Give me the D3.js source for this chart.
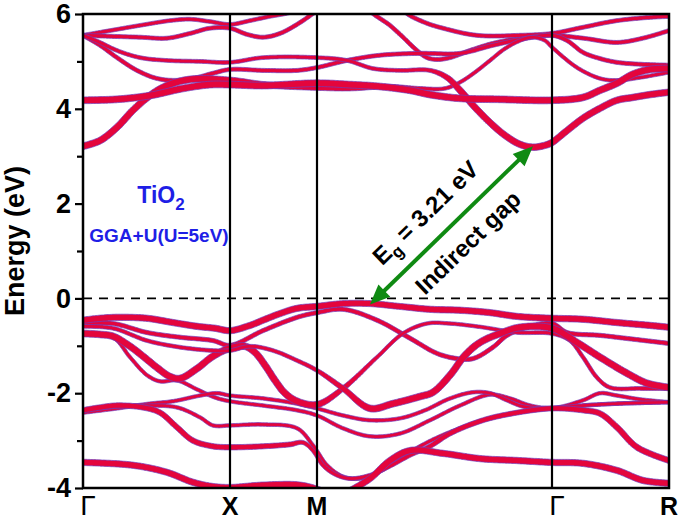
<!DOCTYPE html>
<html>
<head>
<meta charset="utf-8">
<script src="https://cdn.jsdelivr.net/npm/d3@7"></script>
<style>
  body { margin: 0; background: #fff; }
  svg { display: block; }
  text { font-family: "Liberation Sans", Arial, sans-serif; }
</style>
</head>
<body>
<div id="chart"></div>
<script>
// high-symmetry points along the k-path (path length units)
var kTicks = [0, 1.47, 2.34, 4.69, 5.86];
var kLabels = ["Γ", "X", "M", "Γ", "R"];
var energyTicks = [-4, -2, 0, 2, 4, 6];
var energyMinor = [-3, -1, 1, 3, 5];

// bands: [k, E (eV), projected weight]
var cb1 = [[0,3.21,.9],[0.17,3.33,.9],[0.34,3.61,.9],[0.50,3.97,.9],[0.67,4.28,.9],[0.84,4.49,.9],[1.07,4.62,.9],[1.47,4.60,.85],[1.80,4.51,.8],[2.34,4.45,.7],[2.67,4.43,.5],[3.07,4.47,.35],[3.37,4.43,.25],[3.62,4.43,.2],[3.77,4.56,.2],[3.92,4.77,.2],[4.07,5.02,.2],[4.22,5.27,.2],[4.37,5.44,.2],[4.49,5.51,.2],[4.62,5.44,.2],[4.69,5.30,.2],[4.94,4.87,.2],[5.17,4.64,.2],[5.34,4.60,.2],[5.57,4.66,.2],[5.86,4.77,.2]];
var cb2 = [[0,4.18,.9],[0.34,4.20,.9],[0.67,4.28,.9],[1.00,4.43,.9],[1.27,4.51,.9],[1.47,4.51,.9],[1.80,4.49,.9],[2.34,4.54,.9],[2.67,4.51,.9],[2.97,4.47,.9],[3.27,4.39,.9],[3.47,4.30,.9],[3.77,4.22,.9],[4.17,4.20,.9],[4.69,4.18,.9],[5.00,4.24,.9],[5.17,4.39,.9],[5.34,4.54,.9],[5.50,4.73,.9],[5.67,4.83,.9],[5.86,4.85,.9]];
var cb3 = [[0,5.55,.3],[0.17,5.34,.3],[0.34,5.08,.3],[0.54,4.81,.3],[0.74,4.64,.3],[0.94,4.60,.3],[1.14,4.66,.3],[1.30,4.75,.3],[1.47,4.83,.3],[1.80,4.81,.3],[2.14,4.81,.3],[2.34,4.87,.3],[2.64,5.02,.3],[2.97,5.13,.3],[3.37,5.17,.3],[3.77,5.17,.3],[4.10,5.34,.3],[4.44,5.49,.3],[4.69,5.55,.3],[4.84,5.44,.3],[5.00,5.19,.3],[5.17,5.06,.3],[5.34,4.98,.3],[5.57,4.94,.3],[5.86,4.92,.3]];
var cb4 = [[0,5.55,.25],[0.17,5.40,.25],[0.34,5.23,.25],[0.57,5.08,.25],[0.84,5.02,.25],[1.17,5.00,.25],[1.47,4.98,.25],[1.80,5.08,.25],[2.34,5.08,.25],[2.64,5.02,.25],[2.90,4.85,.25],[3.17,4.81,.25],[3.47,4.81,.3],[3.64,4.66,.6],[3.77,4.39,.85],[3.92,4.03,.85],[4.07,3.71,.85],[4.22,3.44,.85],[4.37,3.25,.85],[4.50,3.19,.85],[4.62,3.23,.85],[4.69,3.29,.85],[4.84,3.54,.85],[5.00,3.80,.85],[5.17,4.01,.85],[5.34,4.18,.85],[5.50,4.24,.85],[5.67,4.30,.85],[5.86,4.35,.85]];
var cb5 = [[0,5.55,.25],[0.27,5.65,.25],[0.57,5.76,.25],[0.87,5.86,.25],[1.07,5.89,.25],[1.27,5.84,.25],[1.47,5.78,.25],[1.67,5.86,.25],[1.87,5.95,.25],[2.07,6.03,.25],[2.27,6.18,.25]];
var cb6 = [[0,5.55,.3],[0.27,5.53,.3],[0.57,5.51,.3],[0.84,5.49,.3],[1.07,5.59,.3],[1.27,5.70,.3],[1.47,5.70,.3],[1.64,5.57,.3],[1.80,5.51,.3],[1.97,5.59,.3],[2.17,5.82,.3],[2.30,6.01,.3],[2.42,6.18,.3]];
var cb7 = [[2.82,6.18,.3],[2.90,6.01,.3],[3.07,5.76,.3],[3.20,5.51,.3],[3.34,5.23,.3],[3.44,5.08,.3],[3.54,5.04,.3],[3.67,5.08,.3],[3.87,5.23,.3],[4.10,5.38,.3],[4.44,5.51,.3],[4.69,5.55,.3],[5.00,5.49,.3],[5.34,5.40,.3],[5.60,5.49,.3],[5.86,5.65,.3]];
var cb8 = [[3.17,6.18,.3],[3.24,6.01,.3],[3.42,5.82,.3],[3.60,5.70,.3],[3.94,5.55,.3],[4.37,5.55,.3],[4.69,5.59,.3],[5.00,5.72,.3],[5.34,5.86,.3],[5.67,5.93,.3],[5.86,5.95,.3]];

var vb1 = [[0,-0.46,.8],[0.17,-0.42,.8],[0.34,-0.40,.8],[0.64,-0.42,.8],[0.90,-0.51,.8],[1.14,-0.59,.8],[1.32,-0.63,.8],[1.47,-0.68,.8],[1.67,-0.57,.8],[1.80,-0.46,.8],[1.97,-0.32,.8],[2.14,-0.21,.8],[2.34,-0.17,.8],[2.60,-0.11,.75],[2.87,-0.11,.75],[3.17,-0.17,.75],[3.47,-0.23,.8],[3.77,-0.25,.8],[4.07,-0.30,.8],[4.34,-0.38,.8],[4.69,-0.42,.8],[5.00,-0.44,.8],[5.34,-0.51,.8],[5.67,-0.57,.8],[5.86,-0.61,.8]];
var vb2 = [[0,-0.53,.35],[0.30,-0.53,.35],[0.64,-0.72,.35],[0.97,-0.82,.35],[1.30,-0.89,.35],[1.47,-0.99,.35],[1.80,-0.68,.35],[2.14,-0.40,.35],[2.34,-0.30,.35],[2.60,-0.23,.35],[2.94,-0.46,.35],[3.27,-0.84,.35],[3.54,-1.16,.35],[3.74,-1.27,.35],[3.90,-1.27,.35],[4.10,-1.03,.35],[4.24,-0.78,.35],[4.44,-0.61,.35],[4.69,-0.53,.35],[4.84,-0.72,.35],[5.17,-0.78,.35],[5.50,-0.86,.35],[5.86,-0.95,.35]];
var vb3 = [[0,-0.74,.9],[0.17,-0.76,.9],[0.30,-0.80,.9],[0.47,-1.01,.9],[0.60,-1.22,.9],[0.74,-1.46,.9],[0.87,-1.65,.9],[0.97,-1.69,.9],[1.14,-1.48,.9],[1.30,-1.22,.9],[1.47,-1.05,.9],[1.62,-1.01,.9],[1.72,-1.14,.9],[1.82,-1.41,.9],[1.92,-1.73,.9],[2.02,-2.00,.9],[2.14,-2.17,.9],[2.34,-2.24,.85],[2.60,-1.90,.5],[2.94,-1.24,.2],[3.20,-0.74,.2],[3.44,-0.53,.2],[3.67,-0.53,.2],[4.00,-0.61,.2],[4.34,-0.72,.2],[4.69,-0.74,.25],[4.87,-0.89,.25],[5.00,-1.24,.25],[5.14,-1.67,.25],[5.27,-1.88,.25],[5.57,-1.90,.25],[5.86,-1.90,.25]];
var vb4 = [[0,-0.74,.2],[0.30,-0.82,.2],[0.47,-1.24,.2],[0.64,-1.62,.2],[0.77,-1.75,.2],[0.94,-1.73,.2],[1.14,-1.92,.2],[1.32,-2.09,.2],[1.47,-2.17,.2],[1.80,-2.26,.2],[2.14,-2.36,.2],[2.34,-2.47,.2],[2.60,-2.74,.2],[2.87,-2.91,.2],[3.17,-2.85,.2],[3.47,-2.57,.2],[3.77,-2.26,.2],[4.07,-2.03,.2],[4.27,-2.11,.2],[4.47,-2.26,.2],[4.69,-2.32,.2],[5.00,-2.26,.2],[5.34,-2.22,.2],[5.86,-2.19,.2]];
var vb5 = [[0,-0.59,.25],[0.30,-0.63,.25],[0.64,-0.89,.25],[0.97,-1.03,.25],[1.30,-1.10,.25],[1.47,-1.10,.25],[1.67,-1.01,.25],[1.90,-1.10,.25],[2.14,-1.31,.25],[2.34,-1.52,.3],[2.60,-1.90,.6],[2.87,-2.32,.9],[3.10,-2.22,.9],[3.37,-2.07,.9],[3.50,-1.98,.9],[3.67,-1.62,.9],[3.82,-1.20,.9],[3.97,-0.93,.9],[4.17,-0.74,.9],[4.37,-0.61,.9],[4.69,-0.63,.9],[4.94,-0.93,.9],[5.17,-1.24,.9],[5.44,-1.58,.9],[5.64,-1.79,.9],[5.86,-1.88,.9]];
var vb6 = [[0,-2.36,.6],[0.17,-2.30,.6],[0.34,-2.26,.6],[0.60,-2.30,.6],[0.77,-2.41,.6],[0.94,-2.72,.6],[1.10,-3.00,.6],[1.30,-3.12,.6],[1.47,-3.14,.6],[1.80,-3.12,.55],[2.07,-3.08,.5],[2.20,-3.04,.3],[2.30,-3.21,.25],[2.40,-3.52,.25],[2.52,-3.71,.25],[2.67,-3.80,.25],[2.87,-3.73,.25],[3.07,-3.54,.25],[3.27,-3.31,.3],[3.47,-3.12,.4],[3.67,-2.85,.5],[4.00,-2.57,.5],[4.34,-2.41,.5],[4.69,-2.32,.55],[5.00,-2.36,.6],[5.17,-2.43,.65],[5.34,-2.72,.7],[5.54,-3.14,.7],[5.86,-3.42,.7]];
var vb7 = [[0,-2.41,.2],[0.34,-2.32,.2],[0.67,-2.22,.2],[0.90,-2.17,.2],[1.17,-2.05,.2],[1.34,-2.00,.2],[1.47,-2.05,.2],[1.80,-2.11,.2],[2.14,-2.22,.2],[2.34,-2.32,.2],[2.60,-2.47,.2],[2.87,-2.57,.2],[3.17,-2.53,.2],[3.42,-2.36,.2],[3.67,-2.11,.2],[3.90,-1.98,.2],[4.07,-2.00,.2],[4.24,-2.15,.2],[4.40,-2.28,.2],[4.69,-2.32,.2],[5.00,-2.15,.2],[5.17,-2.00,.2],[5.34,-2.05,.2],[5.57,-2.13,.2],[5.86,-2.19,.2]];
var vb8 = [[0,-2.36,.2],[0.34,-2.28,.2],[0.60,-2.26,.2],[0.94,-2.30,.2],[1.17,-2.51,.2],[1.30,-2.68,.2],[1.47,-2.68,.2],[1.80,-2.66,.2],[2.14,-2.74,.2],[2.30,-3.10,.2],[2.44,-3.52,.2],[2.60,-3.76,.2],[2.77,-3.80,.2],[2.97,-3.65,.2],[3.17,-3.38,.2],[3.37,-3.12,.2],[3.57,-2.91,.2],[3.77,-2.74,.2],[4.00,-2.57,.2],[4.34,-2.41,.2],[4.69,-2.32,.2],[5.00,-2.26,.2],[5.34,-2.22,.2],[5.86,-2.19,.2]];
var vb9 = [[0,-3.46,.8],[0.50,-3.52,.8],[0.84,-3.67,.8],[1.10,-3.88,.8],[1.30,-3.97,.8],[1.47,-3.99,.8],[1.80,-3.94,.8],[2.17,-3.94,.8],[2.37,-4.05,.8],[2.52,-4.20,.8],[2.64,-4.09,.8],[2.87,-3.80,.8],[3.07,-3.42,.8],[3.27,-3.21,.8],[3.60,-3.27,.8],[3.97,-3.38,.8],[4.34,-3.42,.8],[4.69,-3.46,.8],[5.00,-3.48,.8],[5.34,-3.63,.8],[5.60,-3.84,.8],[5.86,-3.90,.8]];

var bands = [cb5, cb6, cb7, cb8, cb3, cb1, cb4, cb2,
             vb4, vb7, vb8, vb6, vb9, vb2, vb3, vb5, vb1];

// indirect gap arrow: VBM (near M) -> CBM (near Γ)
var gapFrom = [2.87, -0.13];
var gapTo = [4.50, 3.21];

var margin = {top: 14, right: 16, bottom: 35, left: 83};
var width = 685 - margin.left - margin.right;
var height = 523 - margin.top - margin.bottom;

var svg = d3.select("#chart").append("svg")
    .attr("width", 685)
    .attr("height", 523);

var g = svg.append("g")
    .attr("transform", "translate(" + margin.left + "," + margin.top + ")");

var x = d3.scaleLinear().domain([kTicks[0], kTicks[kTicks.length - 1]]).range([0, width]);
var y = d3.scaleLinear().domain([-4, 6]).range([height, 0]);

g.append("clipPath").attr("id", "plot")
  .append("rect").attr("width", width).attr("height", height);

// Fermi level
g.append("line")
    .attr("x1", 0).attr("x2", width)
    .attr("y1", y(0)).attr("y2", y(0))
    .attr("stroke", "#000")
    .attr("stroke-width", 1.6)
    .attr("stroke-dasharray", "9,7");

var line = d3.line()
    .x(function(d) { return x(d[0]); })
    .y(function(d) { return y(d[1]); })
    .curve(d3.curveCatmullRom.alpha(0.5));

// fat band outline: sample the smooth curve, offset by the weight
function fatBand(band) {
    var probe = g.append("path").attr("d", line(band));
    var node = probe.node(), len = node.getTotalLength();
    var pts = [];
    for (var l = 0; l < len; l += 1.5) pts.push(node.getPointAtLength(l));
    pts.push(node.getPointAtLength(len));
    probe.remove();

    var w = d3.scaleLinear()
        .domain(band.map(function(d) { return x(d[0]); }))
        .range(band.map(function(d) { return d[2]; }))
        .clamp(true);

    var left = [], right = [];
    pts.forEach(function(p, i) {
        var a = pts[Math.max(i - 1, 0)], b = pts[Math.min(i + 1, pts.length - 1)];
        var dx = b.x - a.x, dy = b.y - a.y, n = Math.hypot(dx, dy) || 1;
        var h = 1.3 + 2.3 * w(p.x);
        left.push([p.x - dy / n * h, p.y + dx / n * h]);
        right.push([p.x + dy / n * h, p.y - dx / n * h]);
    });
    var ring = left.concat(right.reverse());
    return "M" + ring.map(function(p) { return p[0].toFixed(1) + "," + p[1].toFixed(1); }).join("L") + "Z";
}

g.append("g")
    .attr("clip-path", "url(#plot)")
    .selectAll("path")
    .data(bands)
    .enter().append("path")
    .attr("d", fatBand)
    .attr("fill", "#e4053c")
    .attr("stroke", "#6c3fc0")
    .attr("stroke-width", 0.7)
    .attr("stroke-linejoin", "round");

// vertical lines at high-symmetry points
g.selectAll(".kline")
    .data(kTicks.slice(1, -1))
    .enter().append("line")
    .attr("class", "kline")
    .attr("x1", function(d) { return x(d); })
    .attr("x2", function(d) { return x(d); })
    .attr("y1", 0).attr("y2", height)
    .attr("stroke", "#000")
    .attr("stroke-width", 2.2);

// frame
g.append("rect")
    .attr("width", width).attr("height", height)
    .attr("fill", "none")
    .attr("stroke", "#000")
    .attr("stroke-width", 2.5);

// y axis
var yAxis = g.append("g")
    .call(d3.axisLeft(y).tickValues(energyTicks).tickSize(8).tickPadding(4)
        .tickFormat(function(d) { return String(d); }));
yAxis.select(".domain").remove();
yAxis.selectAll("line").attr("stroke-width", 2.2);
yAxis.selectAll("text")
    .attr("font-size", 27)
    .attr("font-weight", "bold")
    .attr("fill", "#000")
    .attr("font-family", "'Liberation Sans', Arial, sans-serif");

var yMinor = g.append("g")
    .call(d3.axisLeft(y).tickValues(energyMinor).tickSize(6).tickFormat(""));
yMinor.select(".domain").remove();
yMinor.selectAll("line").attr("stroke-width", 2.2);

g.append("text")
    .attr("transform", "translate(-59," + (height / 2 - 10) + ") rotate(-90)")
    .attr("text-anchor", "middle")
    .attr("font-size", 27)
    .attr("font-weight", "bold")
    .text("Energy (eV)");

// k-point labels
g.selectAll(".klabel")
    .data(kTicks)
    .enter().append("text")
    .attr("class", "klabel")
    .attr("x", function(d, i) { return x(d) + (kLabels[i] === "Γ" ? 5 : 0); })
    .attr("y", height + 27)
    .attr("text-anchor", "middle")
    .attr("font-size", function(d, i) { return kLabels[i] === "Γ" ? 28 : 25; })
    .attr("font-weight", function(d, i) { return kLabels[i] === "Γ" ? "normal" : "bold"; })
    .attr("font-family", function(d, i) { return kLabels[i] === "Γ" ? "'Liberation Serif', serif" : null; })
    .text(function(d, i) { return kLabels[i]; });

// material / method label
var lab = g.append("text")
    .attr("x", x(0.78)).attr("y", y(2.01))
    .attr("text-anchor", "middle")
    .attr("fill", "#1e1ee6")
    .attr("font-size", 23)
    .attr("font-weight", "bold");
lab.append("tspan").text("TiO");
lab.append("tspan").attr("dy", 7).attr("font-size", 17).text("2");

g.append("text")
    .attr("x", x(0.76)).attr("y", y(1.18))
    .attr("text-anchor", "middle")
    .attr("fill", "#1e1ee6")
    .attr("font-size", 19)
    .attr("font-weight", "bold")
    .text("GGA+U(U=5eV)");

// gap arrow
var green = "#0f8a12";
var p0 = [x(gapFrom[0]), y(gapFrom[1])], p1 = [x(gapTo[0]), y(gapTo[1])];
var ang = Math.atan2(p1[1] - p0[1], p1[0] - p0[0]);
var len = Math.hypot(p1[0] - p0[0], p1[1] - p0[1]);
var arrow = g.append("g")
    .attr("transform", "translate(" + p0[0] + "," + p0[1] + ") rotate(" + (ang * 180 / Math.PI) + ")");
arrow.append("line")
    .attr("x1", 12).attr("x2", len - 12)
    .attr("stroke", green).attr("stroke-width", 4);
arrow.append("path")
    .attr("d", "M0,0L20,-8.5L20,8.5Z")
    .attr("fill", green);
arrow.append("path")
    .attr("d", "M" + len + ",0L" + (len - 20) + ",-8.5L" + (len - 20) + ",8.5Z")
    .attr("fill", green);

var eg = arrow.append("text")
    .attr("x", len / 2 - 10).attr("y", -19)
    .attr("text-anchor", "middle")
    .attr("font-size", 24)
    .attr("font-weight", "bold");
eg.append("tspan").text("E");
eg.append("tspan").attr("dy", 6).attr("font-size", 17).text("g");
eg.append("tspan").attr("dy", -6).text(" = 3.21 eV");

arrow.append("text")
    .attr("x", len / 2).attr("y", 32)
    .attr("text-anchor", "middle")
    .attr("font-size", 24)
    .attr("font-weight", "bold")
    .text("Indirect gap");
</script>
</body>
</html>
